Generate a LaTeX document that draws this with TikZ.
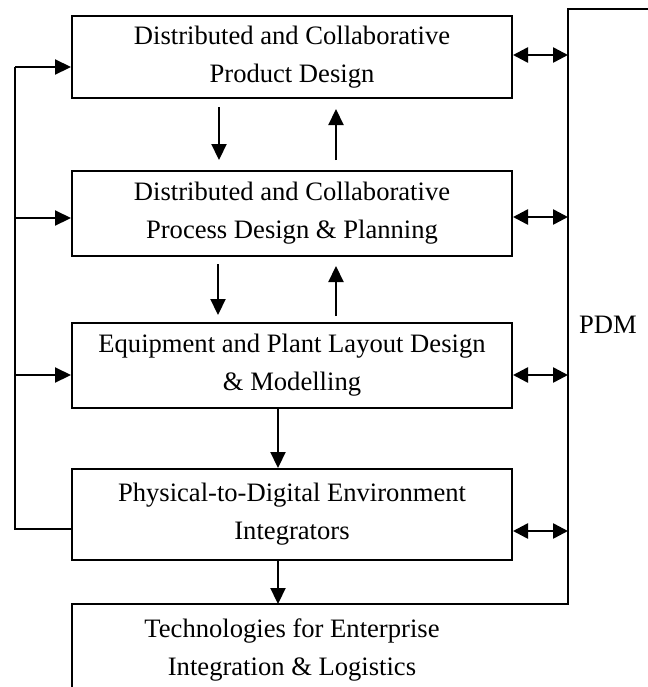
\documentclass[tikz,border=0pt]{standalone}
\usepackage{fontspec}
\setmainfont{Liberation Serif}
\usetikzlibrary{positioning, arrows.meta}
\tikzset{blk/.style={draw, line width=1pt, minimum width=220pt, inner sep=2pt, align=center, font=\fontsize{13.3}{19}\selectfont}}
\tikzset{tri/.style={line width=1.1pt, -{Triangle[length=8pt,width=7.5pt]}}}
\tikzset{dbl/.style={line width=1.3pt, {Triangle[length=7.5pt,width=7.5pt]}-{Triangle[length=7.5pt,width=7.5pt]}}}

\begin{document}
\begin{tikzpicture}[x=0.5pt, y=-0.5pt]
        \clip (0,0) rectangle (648,687);

        \node[blk, minimum height=41pt] at (292,57) (prod) {Distributed and Collaborative\\Product Design};
        \node[blk, minimum height=42.5pt, below=35.5pt of prod] (proc) {Distributed and Collaborative\\Process Design \& Planning};
        \node[blk, minimum height=42.5pt, below=32.5pt of proc] (plant) {Equipment and Plant Layout Design\\\& Modelling};
        \node[blk, minimum height=45.5pt, below=29.5pt of plant] (integ) {Physical-to-Digital Environment\\Integrators};
        \node[align=center, font=\fontsize{13.3}{19}\selectfont] at (292,650) (ent) {Technologies for Enterprise\\Integration \& Logistics};

        % PDM frame and enterprise box, both run off the picture
        \coordinate (pdmNW) at (568,9);
        \coordinate (pdmSW) at (568,604);
        \coordinate (entNW) at (72,604);
        \coordinate (entSW) at (72,700);
        \coordinate (pdmNE) at (700,9);
        \draw[line width=1pt] (entSW) -- (entNW) -- (pdmSW) -- (pdmNW) -- (pdmNE);
        \node[font=\fontsize{13.3}{19}\selectfont] at (608,325) (pdm) {PDM};

        % left feedback line
        \coordinate (busT) at (15,67);
        \coordinate (busB) at (15,529);
        \draw[line width=1pt] (integ.west |- busB) -- (busB) -- (busT);
        \draw[tri] (busT) -- (prod.west |- busT);
        \draw[tri] ([yshift=-2.25pt]proc.west -| busT) -- ([yshift=-2.25pt]proc.west);
        \draw[tri] ([yshift=-4.75pt]plant.west -| busT) -- ([yshift=-4.75pt]plant.west);

        % links to PDM
        \draw[dbl] ([yshift=1pt]prod.east) -- ([yshift=1pt]prod.east -| pdmNW);
        \draw[dbl] ([yshift=-1.75pt]proc.east) -- ([yshift=-1.75pt]proc.east -| pdmNW);
        \draw[dbl] ([yshift=-4.75pt]plant.east) -- ([yshift=-4.75pt]plant.east -| pdmNW);
        \draw[dbl] ([yshift=-8.25pt]integ.east) -- ([yshift=-8.25pt]integ.east -| pdmNW);

        % flows between the stages
        \draw[tri, shorten <=4pt, shorten >=5pt] ([xshift=-36.5pt]prod.south) -- ([xshift=-36.5pt]proc.north);
        \draw[tri, shorten <=5pt, shorten >=5pt] ([xshift=22pt]proc.north) -- ([xshift=22pt]prod.south);
        \draw[tri, shorten <=3.5pt, shorten >=3.5pt] ([xshift=-37pt]proc.south) -- ([xshift=-37pt]plant.north);
        \draw[tri, shorten <=3pt, shorten >=4.5pt] ([xshift=22pt]plant.north) -- ([xshift=22pt]proc.south);
        \draw[tri] ([xshift=-7pt]plant.south) -- ([xshift=-7pt]integ.north);
        \draw[tri] ([xshift=-7pt]integ.south) -- ([xshift=-7pt]integ.south |- entNW);
\end{tikzpicture}
\end{document}
